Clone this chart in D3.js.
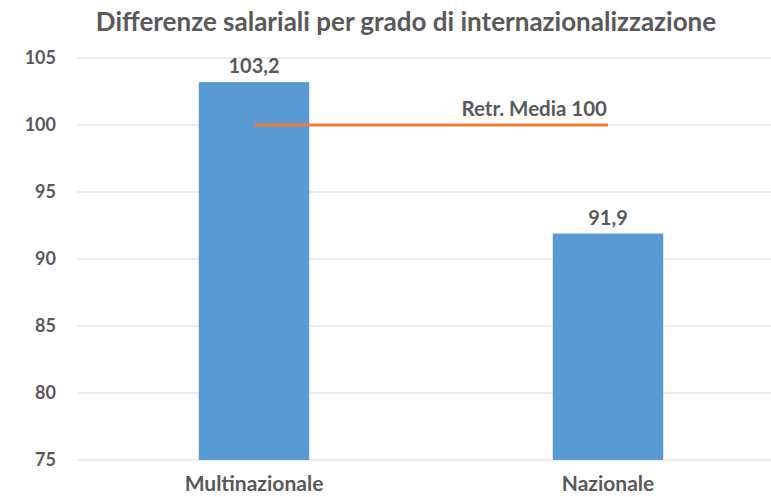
<!DOCTYPE html>
<html>
<head>
<meta charset="utf-8">
<script src="https://cdn.jsdelivr.net/npm/d3@7"></script>
<style>
  body { margin: 0; background: #fff; }
  text { font-family: Lato, "Open Sans", sans-serif; font-weight: bold; fill: #595959; }
</style>
</head>
<body>
<script>
// Chart data
var categories = ["Multinazionale", "Nazionale"];
var values = [103.2, 91.9];
var valueLabels = ["103,2", "91,9"];
var meanValue = 100;
var meanLabel = "Retr. Media 100";
var yTicks = [75, 80, 85, 90, 95, 100, 105];
var title = "Differenze salariali per grado di internazionalizzazione";

var width = 771, height = 497;
var margin = {top: 58, right: -14, bottom: 37, left: 77};

var svg = d3.select("body").append("svg")
    .attr("width", width)
    .attr("height", height);

// Scales
var xScale = d3.scaleBand()
    .domain(categories)
    .range([margin.left, width - margin.right])
    .padding(0);
var yScale = d3.scaleLinear()
    .domain([75, 105])
    .range([height - margin.bottom, margin.top]);

var barWidth = xScale.bandwidth() * 0.312;

// Gridlines
svg.append("g")
    .selectAll("line")
    .data(yTicks)
  .enter().append("line")
    .attr("x1", margin.left)
    .attr("x2", width)
    .attr("y1", function(d) { return yScale(d); })
    .attr("y2", function(d) { return yScale(d); })
    .attr("stroke", "#d9d9d9")
    .attr("stroke-width", 1);

// Y axis labels
var yAxis = svg.append("g")
    .attr("transform", "translate(" + margin.left + ",0)")
    .call(d3.axisLeft(yScale).tickValues(yTicks).tickSize(0).tickPadding(21));
yAxis.select(".domain").remove();
yAxis.attr("font-family", null).attr("font-size", null);
yAxis.selectAll("text")
    .attr("font-size", 18)
    .attr("fill", "#595959");

// Bars
svg.selectAll(".bar")
    .data(values)
  .enter().append("rect")
    .attr("class", "bar")
    .attr("x", function(d, i) { return xScale(categories[i]) + xScale.bandwidth() / 2 - barWidth / 2; })
    .attr("y", function(d) { return yScale(d); })
    .attr("width", barWidth)
    .attr("height", function(d) { return yScale(75) - yScale(d); })
    .attr("fill", "#5b9bd5");

// Value labels
svg.selectAll(".vlabel")
    .data(values)
  .enter().append("text")
    .attr("class", "vlabel")
    .attr("x", function(d, i) { return xScale(categories[i]) + xScale.bandwidth() / 2; })
    .attr("y", function(d) { return yScale(d) - 9; })
    .attr("text-anchor", "middle")
    .attr("font-size", 20)
    .text(function(d, i) { return valueLabels[i]; });

// Mean line between bar centres
var lineX = categories.map(function(c) { return xScale(c) + xScale.bandwidth() / 2; });
svg.append("line")
    .attr("x1", lineX[0])
    .attr("x2", lineX[1])
    .attr("y1", yScale(meanValue))
    .attr("y2", yScale(meanValue))
    .attr("stroke", "#ed7d31")
    .attr("stroke-width", 3);

svg.append("text")
    .attr("x", lineX[1] - 1)
    .attr("y", yScale(meanValue) - 9)
    .attr("text-anchor", "end")
    .attr("font-size", 20.5)
    .text(meanLabel);

// Category labels
svg.selectAll(".clabel")
    .data(categories)
  .enter().append("text")
    .attr("class", "clabel")
    .attr("x", function(d) { return xScale(d) + xScale.bandwidth() / 2; })
    .attr("y", 491)
    .attr("text-anchor", "middle")
    .attr("font-size", 21)
    .text(function(d) { return d; });

// Title
svg.append("text")
    .attr("x", 406)
    .attr("y", 31)
    .attr("text-anchor", "middle")
    .attr("font-size", 26)
    .text(title);
</script>
</body>
</html>
